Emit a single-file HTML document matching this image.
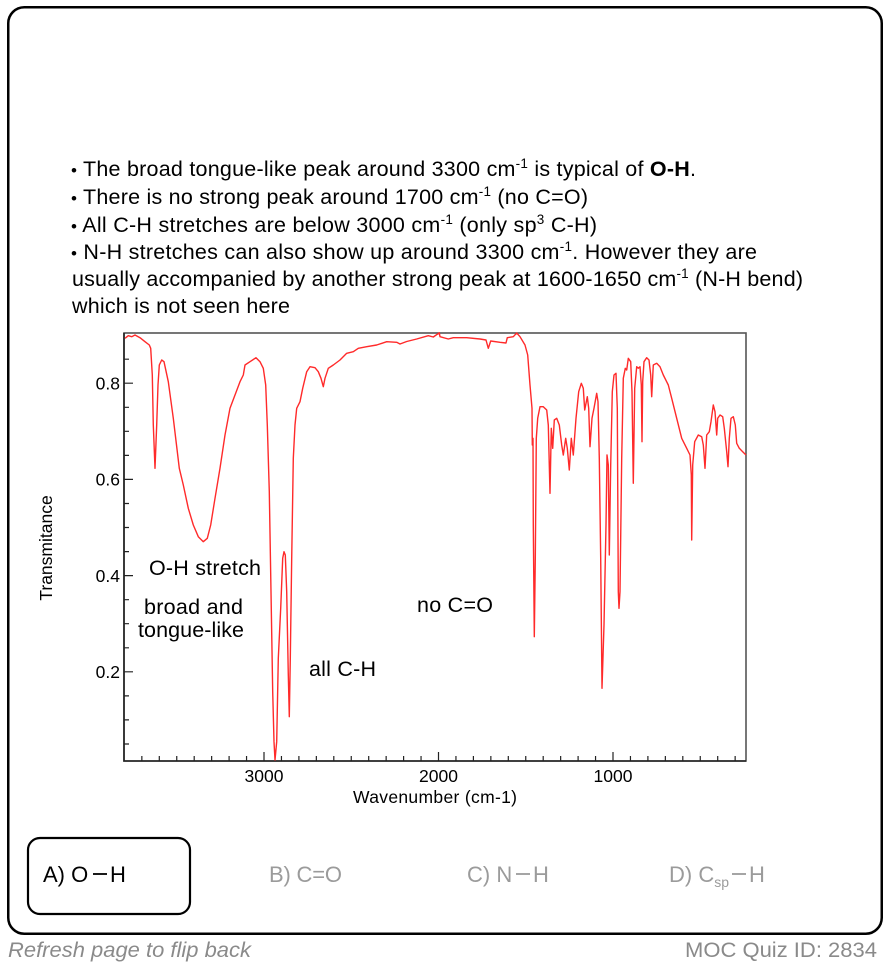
<!DOCTYPE html>
<html>
<head>
<meta charset="utf-8">
<style>
html,body{margin:0;padding:0;background:#fff;}
body{width:890px;height:968px;overflow:hidden;}
svg{display:block;}
text{font-family:"Liberation Sans",Arial,sans-serif;}
</style>
</head>
<body>
<svg width="890" height="968" viewBox="0 0 890 968" xmlns="http://www.w3.org/2000/svg">
  <!-- card -->
  <rect x="8.25" y="7.25" width="873.5" height="926.5" rx="16" ry="16" fill="#fff" stroke="#000" stroke-width="2.5"/>

  <!-- bullet text -->
  <g font-size="21.5" fill="#000">
    <text x="71" y="176" textLength="625" lengthAdjust="spacing"><tspan font-size="17">•</tspan> The broad tongue-like peak around 3300 cm<tspan font-size="13.5" dy="-8">-1</tspan><tspan dy="8"> is typical of </tspan><tspan font-weight="bold">O-H</tspan>.</text>
    <text x="71" y="204" textLength="517" lengthAdjust="spacing"><tspan font-size="17">•</tspan> There is no strong peak around 1700 cm<tspan font-size="13.5" dy="-8">-1</tspan><tspan dy="8"> (no C=O)</tspan></text>
    <text x="71" y="232" textLength="526" lengthAdjust="spacing"><tspan font-size="17">•</tspan> All C-H stretches are below 3000 cm<tspan font-size="13.5" dy="-8">-1</tspan><tspan dy="8"> (only sp</tspan><tspan font-size="13.5" dy="-8">3</tspan><tspan dy="8"> C-H)</tspan></text>
    <text x="71" y="259" textLength="686" lengthAdjust="spacing"><tspan font-size="17">•</tspan> N-H stretches can also show up around 3300 cm<tspan font-size="13.5" dy="-8">-1</tspan><tspan dy="8">. However they are</tspan></text>
    <text x="72" y="286" textLength="731" lengthAdjust="spacing">usually accompanied by another strong peak at 1600-1650 cm<tspan font-size="13.5" dy="-8">-1</tspan><tspan dy="8"> (N-H bend)</tspan></text>
    <text x="72" y="313" textLength="218" lengthAdjust="spacing">which is not seen here</text>
  </g>

  <!-- plot frame -->
  <rect x="124" y="333" width="622" height="428" fill="none" stroke="#555" stroke-width="1.6"/>
  <path d="M124,333 V761 H746" fill="none" stroke="#222" stroke-width="1.6"/>

  <!-- y ticks -->
  <path stroke="#222" stroke-width="1.2" fill="none" d="
    M124,744 h5 M124,719.9 h5 M124,695.9 h5 M124,671.8 h9
    M124,647.8 h5 M124,623.7 h5 M124,599.7 h5 M124,575.6 h9
    M124,551.6 h5 M124,527.5 h5 M124,503.5 h5 M124,479.4 h9
    M124,455.4 h5 M124,431.3 h5 M124,407.3 h5 M124,383.2 h9
    M124,359.2 h5"/>
  <!-- x ticks -->
  <path stroke="#222" stroke-width="1.2" fill="none" d="
    M141.85,761 v-5 M159.3,761 v-5 M176.75,761 v-5 M194.2,761 v-5 M211.65,761 v-5 M229.1,761 v-5 M246.55,761 v-5
    M264,761 v-9
    M281.45,761 v-5 M298.9,761 v-5 M316.35,761 v-5 M333.8,761 v-5 M351.25,761 v-5 M368.7,761 v-5 M386.15,761 v-5 M403.6,761 v-5 M421.05,761 v-5
    M438.5,761 v-9
    M455.95,761 v-5 M473.4,761 v-5 M490.85,761 v-5 M508.3,761 v-5 M525.75,761 v-5 M543.2,761 v-5 M560.65,761 v-5 M578.1,761 v-5 M595.55,761 v-5
    M613,761 v-9
    M630.45,761 v-5 M647.9,761 v-5 M665.35,761 v-5 M682.8,761 v-5 M700.25,761 v-5 M717.7,761 v-5 M735.15,761 v-5"/>

  <!-- tick labels -->
  <g font-size="17.5" fill="#000">
    <text x="120" y="389.5" text-anchor="end">0.8</text>
    <text x="120" y="485.5" text-anchor="end">0.6</text>
    <text x="120" y="582" text-anchor="end">0.4</text>
    <text x="120" y="678" text-anchor="end">0.2</text>
    <text x="264" y="782" text-anchor="middle">3000</text>
    <text x="438.5" y="782" text-anchor="middle">2000</text>
    <text x="613" y="782" text-anchor="middle">1000</text>
  </g>
  <text x="435" y="803" font-size="17.5" text-anchor="middle" textLength="164" lengthAdjust="spacing">Wavenumber (cm-1)</text>
  <text x="0" y="0" font-size="17.5" text-anchor="middle" transform="translate(52,548) rotate(-90)">Transmitance</text>

  <!-- spectrum -->
  <polyline fill="none" stroke="#ff2a2a" stroke-width="1.4" stroke-linejoin="round" points="
    125,338.3 128.3,335.7 131.7,336.7 135,335 140,337.7 145,341.7 149.3,345 150.7,348.3 152.3,375 153.3,425 155,468.3
    156.7,425 158,385 159.3,365 161.7,360 164,361.7 168.3,381.7 173.3,418.3 179.3,468.3 183.3,485 188.3,508.3 193.3,525
    198.3,536.7 203.3,541.7 207.3,538.3 210.7,525 215,498.3 220,468.3 225,435 230,408.3 235,395 240,381.7 243.3,375 245,365
    250,361.7 256,357.7 260,361.7 263.3,368.3 265.7,385 267.3,425 269.3,491.7 271,591.7 272.7,691.7 274,741.7 275,760
    276.7,741.7 278.3,658.3 280.7,608.3 282.7,558.3 284,551.7 285.3,555 286.7,591.7 288.3,675 289.3,716.7 290.3,658.3
    291.7,558.3 293.3,458.3 295,425 296.7,408.3 300,401.7 302.7,388.3 306.7,371.7 310,366.7 315,367.7 318.3,371.7
    321,378.3 323.3,386.7 325,378.3 328.3,368.3 333.3,365 340,360 346.7,353.3 353.3,351.7 358.3,348.3 366.7,346.7
    376.7,345 386.7,341.7 396.7,342.3 400,344 406.7,341.5 416.7,339 428.3,335.7 433.3,337 439.3,332.8 440,336.7
    448.3,339 453.3,337.7 466.7,337.7 480,339 486,340 488.3,348.3 490.7,341 500,342.3 506,343 507.3,337.7 513.3,336.7
    516.7,333 520,336.7 525,345 527.7,355 530,385 532,408.3 532.3,445 533,438.3 533.3,525 534.3,636.7
    535.3,558.3 536.3,438.3 537.7,418.3 540,406.7 543.3,406.7 546.7,410 548.3,425 550,493.3 551.3,428.3 552.7,448.3
    554.3,420 556.7,418.3 559.3,425 561.7,445 563.3,455 565.7,438.3 567.3,448.3 569.3,470 571.3,438.3 573.3,455
    576,418.3 578.7,391.7 581.3,383.3 583.3,388.3 584.7,410 587.3,396.7 588.7,408.3 590,446.7 592,418.3 594,408.3
    596.7,393.3 598,401.7 599.3,458.3 600.7,558.3 602,688.3 604,625 606,525 607,455 608.3,465 609.3,555 610.7,465
    612.3,391.7 614,375 616,373.3 617.3,408.3 618.3,591.7 619,608.3 620,591.7 621.7,458.3 623.3,378.3 625.3,368.3
    626.7,370 628.3,358.3 630.7,361.7 632,391.7 633.3,483.3 634.7,388.3 636.7,366.7 638.3,368.3 640,366.7 641.3,385
    642,441.7 642.7,381.7 644,361.7 646.7,357.7 649,360 650.7,375 651.7,396.7 653.3,365 656.7,363.3 660,366.7
    663.3,375 668.3,385 671.7,398.3 676.7,418.3 681.7,438.3 686.7,448.3 690,455 691.3,475 691.7,540 692.7,465
    694.7,441.7 698.3,435 701.7,436.7 703.3,445 705,468.3 706.7,435 709.3,431.7 711,421.7 713.3,405 715,411.7
    716.7,435 717.7,418.3 720,415 722.7,416.7 724.3,428.3 726.7,451.7 728,466.7 729.3,438.3 731,418.3 733.3,416.7
    735.3,425 736.7,443.3 739.3,448.3 742.7,451.7 746,455"/>

  <!-- annotations -->
  <g font-size="21.5" fill="#000">
    <text x="149" y="575" textLength="112" lengthAdjust="spacing">O-H stretch</text>
    <text x="144" y="614" textLength="99" lengthAdjust="spacing">broad and</text>
    <text x="138" y="637" textLength="106" lengthAdjust="spacing">tongue-like</text>
    <text x="309" y="676" textLength="67" lengthAdjust="spacing">all C-H</text>
    <text x="417" y="612" textLength="76" lengthAdjust="spacing">no C=O</text>
  </g>

  <!-- answer choices -->
  <rect x="28" y="838" width="162" height="76" rx="12" ry="12" fill="#fff" stroke="#000" stroke-width="2.2"/>
  <g font-size="22">
    <text x="43" y="882" fill="#000">A) O</text>
    <line x1="93" y1="874" x2="107" y2="874" stroke="#000" stroke-width="1.8"/>
    <text x="110" y="882" fill="#000">H</text>

    <text x="269" y="882" fill="#9b9b9b" textLength="73" lengthAdjust="spacing">B) C=O</text>

    <text x="467" y="882" fill="#9b9b9b">C) N</text>
    <line x1="516" y1="874" x2="530" y2="874" stroke="#9b9b9b" stroke-width="1.8"/>
    <text x="533" y="882" fill="#9b9b9b">H</text>

    <text x="669" y="882" fill="#9b9b9b">D) C<tspan font-size="14" dy="5">sp</tspan></text>
    <line x1="732" y1="874" x2="746" y2="874" stroke="#9b9b9b" stroke-width="1.8"/>
    <text x="749" y="882" fill="#9b9b9b">H</text>
  </g>

  <!-- footer -->
  <text x="8" y="957" font-size="21" font-style="italic" fill="#8a8a8a" textLength="243" lengthAdjust="spacingAndGlyphs">Refresh page to flip back</text>
  <text x="685" y="957" font-size="21" fill="#8a8a8a" textLength="192" lengthAdjust="spacingAndGlyphs">MOC Quiz ID: 2834</text>
</svg>
</body>
</html>
